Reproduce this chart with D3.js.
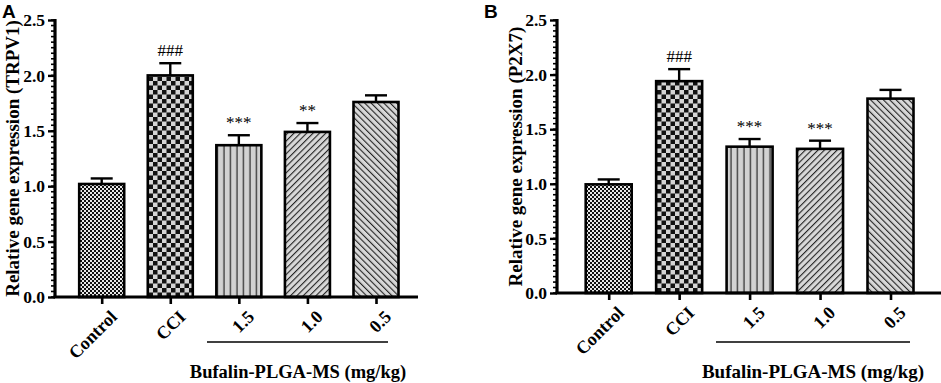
<!DOCTYPE html>
<html><head><meta charset="utf-8">
<script src="https://cdn.jsdelivr.net/npm/d3@7"></script>
<style>body{margin:0;background:#fff}svg{display:block}</style>
</head><body>
<svg id="c" width="941" height="383"></svg>
<script>
const categories = ["Control", "CCI", "1.5", "1.0", "0.5"];
const trpv1Means = [1.02, 2.00, 1.37, 1.49, 1.76];
const trpv1Err = [0.05, 0.11, 0.09, 0.08, 0.06];
const trpv1Marks = ["", "###", "***", "**", ""];
const p2x7Means = [0.995, 1.94, 1.34, 1.32, 1.78];
const p2x7Err = [0.045, 0.11, 0.07, 0.075, 0.08];
const p2x7Marks = ["", "###", "***", "***", ""];
const yTicks = [0.0, 0.5, 1.0, 1.5, 2.0, 2.5];
const patterns = ["fineChecker", "checker", "vlines", "diagF", "diagB"];

const svg = d3.select("#c");
const defs = svg.append("defs");
const serif = "'Liberation Serif','Times New Roman',serif";

(function(){
  let p = defs.append("pattern").attr("id","fineChecker").attr("patternUnits","userSpaceOnUse").attr("width",4).attr("height",4);
  p.append("rect").attr("width",4).attr("height",4).attr("fill","#e8e8e8");
  p.append("rect").attr("width",2).attr("height",2).attr("fill","#111");
  p.append("rect").attr("x",2).attr("y",2).attr("width",2).attr("height",2).attr("fill","#111");
  p = defs.append("pattern").attr("id","checker").attr("patternUnits","userSpaceOnUse").attr("width",9).attr("height",9);
  p.append("rect").attr("width",9).attr("height",9).attr("fill","#d4d4d4");
  p.append("rect").attr("width",4.5).attr("height",4.5).attr("fill","#111");
  p.append("rect").attr("x",4.5).attr("y",4.5).attr("width",4.5).attr("height",4.5).attr("fill","#111");
  p = defs.append("pattern").attr("id","vlines").attr("patternUnits","userSpaceOnUse").attr("width",6.5).attr("height",10);
  p.append("rect").attr("width",6.5).attr("height",10).attr("fill","#d2d2d2");
  p.append("line").attr("x1",3).attr("x2",3).attr("y1",0).attr("y2",10).attr("stroke","#333").attr("stroke-width",1.3);
  p = defs.append("pattern").attr("id","diagF").attr("patternUnits","userSpaceOnUse").attr("width",4.5).attr("height",4.5).attr("patternTransform","rotate(45)");
  p.append("rect").attr("width",4.5).attr("height",4.5).attr("fill","#d8d8d8");
  p.append("line").attr("x1",0).attr("x2",0).attr("y1",0).attr("y2",4.5).attr("stroke","#222").attr("stroke-width",2.2);
  p = defs.append("pattern").attr("id","diagB").attr("patternUnits","userSpaceOnUse").attr("width",4.5).attr("height",4.5).attr("patternTransform","rotate(-45)");
  p.append("rect").attr("width",4.5).attr("height",4.5).attr("fill","#d8d8d8");
  p.append("line").attr("x1",0).attr("x2",0).attr("y1",0).attr("y2",4.5).attr("stroke","#222").attr("stroke-width",2.2);
})();

function panel(cfg){
  const g = svg.append("g");
  const y = d3.scaleLinear().domain([0,2.5]).range([cfg.y0, 20]);
  const x = d3.scalePoint().domain(categories).range(cfg.xr);
  const bw = cfg.bw;

  g.selectAll("rect.bar").data(categories).join("rect")
    .attr("x", d => x(d) - bw/2)
    .attr("y", (d,i) => y(cfg.means[i]))
    .attr("width", bw)
    .attr("height", (d,i) => y(0) - y(cfg.means[i]))
    .attr("fill", (d,i) => `url(#${patterns[i]})`)
    .attr("stroke", "#000").attr("stroke-width", 2.6);

  categories.forEach((c,i) => {
    const top = y(cfg.means[i] + cfg.err[i]);
    g.append("line").attr("x1", x(c)).attr("x2", x(c)).attr("y1", y(cfg.means[i])).attr("y2", top)
      .attr("stroke","#000").attr("stroke-width",2.4);
    g.append("line").attr("x1", x(c)-11).attr("x2", x(c)+11).attr("y1", top).attr("y2", top)
      .attr("stroke","#000").attr("stroke-width",2.4);
    if (cfg.marks[i]) {
      g.append("text").attr("x", x(c)).attr("y", top - 7).attr("text-anchor","middle")
        .attr("font-family", serif).attr("font-size", 17).attr("fill","#000").text(cfg.marks[i]);
    }
  });

  const minor = d3.range(0, 2.5001, 0.05);
  g.selectAll("line.minor").data(minor).join("line")
    .attr("x1", cfg.ax - 4).attr("x2", cfg.ax).attr("y1", d => y(d)).attr("y2", d => y(d))
    .attr("stroke","#000").attr("stroke-width",1.6);

  const ya = g.append("g").attr("transform", `translate(${cfg.ax},0)`)
    .call(d3.axisLeft(y).tickValues(yTicks).tickFormat(d3.format(".1f")).tickSize(7).tickPadding(3));
  ya.select(".domain").attr("stroke-width",3.2).attr("d", `M0,${y(2.5)-1}V${y(0)}`);
  ya.selectAll(".tick line").attr("stroke-width",2.4);
  ya.selectAll(".tick text").attr("font-family", serif).attr("font-weight","bold").attr("font-size",17.5).attr("fill","#000");

  const xa = g.append("g").attr("transform", `translate(0,${y(0)})`)
    .call(d3.axisBottom(x).tickSize(7).tickFormat(""));
  xa.select(".domain").attr("stroke-width",3.2).attr("d", `M${cfg.ax-1.5},0H${cfg.xEnd}`);
  xa.selectAll(".tick line").attr("stroke-width",2.6);
  xa.selectAll(".tick").append("text")
    .attr("transform","translate(7,12) rotate(-45)")
    .attr("text-anchor","end").attr("dy","0.7em")
    .attr("font-family", serif).attr("font-weight","bold").attr("font-size",18).attr("fill","#000")
    .text(d => d);

  g.append("line").attr("x1", cfg.grp[0]).attr("x2", cfg.grp[1]).attr("y1", 342).attr("y2", 342)
    .attr("stroke","#000").attr("stroke-width",1.6);
  g.append("text").attr("x", cfg.titleX).attr("y", 378).attr("text-anchor","middle")
    .attr("font-family", serif).attr("font-weight","bold").attr("font-size",cfg.titleSize).text("Bufalin-PLGA-MS (mg/kg)");

  g.append("text").attr("transform", `translate(${cfg.ytx},${(y(0)+y(2.5))/2}) rotate(-90)`)
    .attr("text-anchor","middle").attr("dy","0.35em").attr("font-family", serif).attr("font-weight","bold").attr("font-size",19)
    .text(cfg.ytitle);

  svg.append("text").attr("x", cfg.letterX).attr("y", 18).attr("font-family","'Liberation Sans',Arial,sans-serif")
    .attr("font-weight","bold").attr("font-size",19).text(cfg.letter);
}

panel({means: trpv1Means, err: trpv1Err, marks: trpv1Marks, y0: 297, xr: [101.7, 376], bw: 45,
  ax: 55, xEnd: 418, grp: [207, 388], titleX: 298, titleSize: 18.5, ytx: 12, ytitle: "Relative gene expression (TRPV1)",
  letter: "A", letterX: 2});
panel({means: p2x7Means, err: p2x7Err, marks: p2x7Marks, y0: 293, xr: [608.7, 890.5], bw: 46,
  ax: 557, xEnd: 941, grp: [716, 910], titleX: 813, titleSize: 19, ytx: 515, ytitle: "Relative gene expression (P2X7)",
  letter: "B", letterX: 484});
</script>
</body></html>
